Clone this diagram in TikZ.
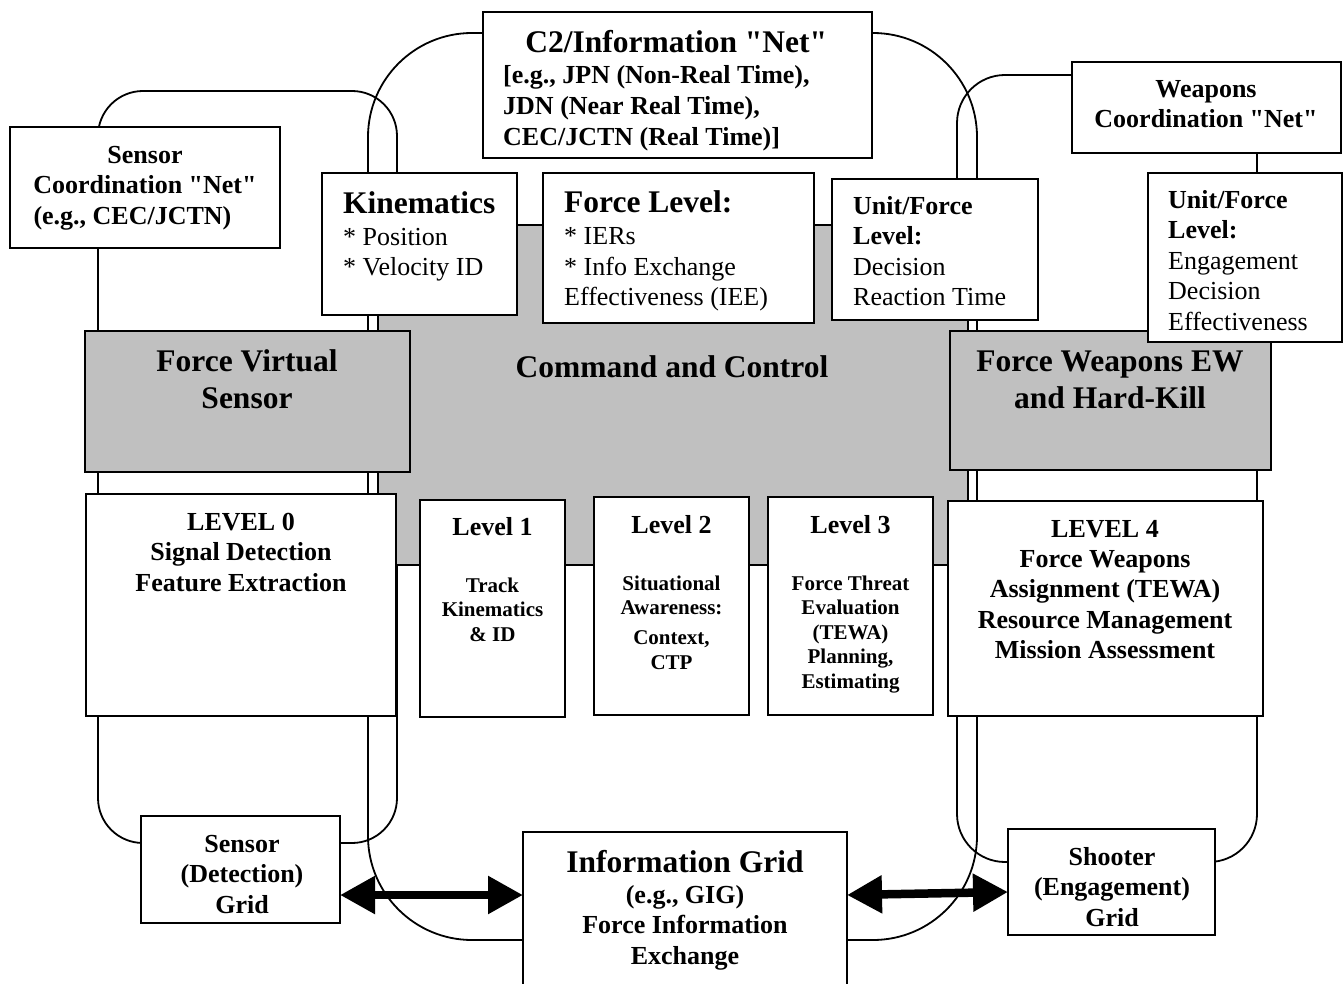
\documentclass[tikz,border=0pt]{standalone}
\usepackage{fontspec}
\setmainfont{Liberation Serif}
% a second face of the same family, without TeX quote ligatures, for straight quotes
\newfontfamily\straightq{Liberation Serif}
\newcommand\qq{{\straightq"}}
\usetikzlibrary{arrows.meta}
\definecolor{panelgray}{RGB}{192,192,192}
\newcommand\ttl[1]{{\fontsize{31.5}{37}\selectfont\bfseries #1}}
\newcommand\lead[1]{\rule{0pt}{#1pt}}
\begin{document}
\begin{tikzpicture}[x=1pt,y=-1pt,
  loopline/.style={line width=1.8pt},
  box/.style={draw, line width=1.8pt, fill=white, inner sep=0pt, outer sep=0pt, anchor=north west},
  shaded/.style={box, fill=panelgray},
  bodytext/.style={inner sep=0pt, font=\fontsize{26}{30.5}\selectfont},
  boldtext/.style={inner sep=0pt, font=\fontsize{26}{30.5}\selectfont\bfseries},
  bigtext/.style={inner sep=0pt, font=\fontsize{31.5}{37}\selectfont\bfseries},
  smalltext/.style={inner sep=0pt, font=\fontsize{21}{24.5}\selectfont\bfseries, align=center, anchor=north},
  link/.style={line width=8.5pt, {Triangle[length=35pt,width=36pt]}-{Triangle[length=35pt,width=36pt]}}
]
\useasboundingbox (0,0) rectangle (1343,984);
\clip (0,0) rectangle (1343,984);

% coordination loops (sensor, C2, weapons)
\draw[loopline, rounded corners=45pt] (98,91) rectangle (397,843);
\draw[loopline, rounded corners=104pt] (368,33) rectangle (977,940);
\draw[loopline, rounded corners=48pt] (957,75) rectangle (1257,862);

% central command and control panel
\node[shaded, minimum width=590pt, minimum height=340pt] (cc) at (378,225) {};

% upper boxes
\node[box, minimum width=195pt, minimum height=142pt] (kin) at (322,173) {};
\node[box, minimum width=271pt, minimum height=150pt] (flv) at (543,173) {};
\node[box, minimum width=206pt, minimum height=141pt] (ufm) at (832,179) {};
\node[shaded, minimum width=325pt, minimum height=141pt] (fvs) at (85,331) {};
\node[shaded, minimum width=321pt, minimum height=139pt] (fwk) at (950,331) {};
\node[box, minimum width=194pt, minimum height=169pt] (ufr) at (1148,173) {};
\node[box, minimum width=270pt, minimum height=121pt] (scn) at (10,127) {};
\node[box, minimum width=389pt, minimum height=146pt] (c2) at (483,12) {};
\node[box, minimum width=269pt, minimum height=91pt] (wcn) at (1072,62) {};

% fusion levels
\node[box, minimum width=310pt, minimum height=222pt] (lv0) at (86,494) {};
\node[box, minimum width=145pt, minimum height=217pt] (lv1) at (420,500) {};
\node[box, minimum width=155pt, minimum height=218pt] (lv2) at (594,497) {};
\node[box, minimum width=165pt, minimum height=218pt] (lv3) at (768,497) {};
\node[box, minimum width=315pt, minimum height=215pt] (lv4) at (948,501) {};

% grids
\node[box, minimum width=199pt, minimum height=107pt] (sgr) at (141,816) {};
\node[box, minimum width=324pt, minimum height=170pt] (igr) at (523,832) {};
\node[box, minimum width=207pt, minimum height=106pt] (shg) at (1008,829) {};

% texts
\node[boldtext, align=center, anchor=north] (scnT) at (145,143) {\lead{20}Sensor\\Coordination \qq Net\qq\\\makebox[223pt][l]{(e.g., CEC/JCTN)}};
\node[boldtext, align=left, anchor=north west, font=\fontsize{26}{31}\selectfont\bfseries] (c2T) at (503,27) {\lead{25}\makebox[346pt]{\ttl{C2/Information \qq Net\qq}}\\[0.5pt]{[}e.g., JPN (Non-Real Time),\\JDN (Near Real Time),\\CEC/JCTN (Real Time)]};
\node[boldtext, align=center, anchor=north] (wcnT) at (1206,77) {\lead{20}Weapons\\Coordination \qq Net\qq};
\node[bodytext, align=left, anchor=north west] (kinT) at (343,188) {\lead{25}\ttl{Kinematics}\\[1.5pt]{*} Position\\{*} Velocity ID};
\node[bodytext, align=left, anchor=north west] (flvT) at (564,187) {\lead{25}\ttl{Force Level:}\\[2pt]{*} IERs\\{*} Info Exchange\\Effectiveness (IEE)};
\node[bodytext, align=left, anchor=north west] (ufmT) at (853,194) {\lead{20}\textbf{Unit/Force}\\\textbf{Level:}\\Decision\\Reaction Time};
\node[bodytext, align=left, anchor=north west] (ufrT) at (1168,188) {\lead{20}\textbf{Unit/Force}\\\textbf{Level:}\\Engagement\\Decision\\Effectiveness};
\node[bigtext, anchor=base] (ccT) at (672,377) {Command and Control};
\node[bigtext, align=center, anchor=north] (fvsT) at (247,346) {\lead{25}Force Virtual\\Sensor};
\node[bigtext, align=center, anchor=north] (fwkT) at (1110,346) {\lead{25}Force Weapons EW\\and Hard-Kill};
\node[boldtext, align=center, anchor=north] (lv0T) at (241,510) {\lead{20}LEVEL 0\\Signal Detection\\Feature Extraction};
\node[boldtext, anchor=base] (lv1H) at (492.5,535) {Level 1};
\node[smalltext] (lv1T) at (492.5,575) {\lead{17}Track\\Kinematics\\\& ID};
\node[boldtext, anchor=base] (lv2H) at (671.5,533) {Level 2};
\node[smalltext] (lv2T) at (671.5,573) {\lead{17}Situational\\Awareness:\\[5.5pt]Context,\\CTP};
\node[boldtext, anchor=base] (lv3H) at (850.5,533) {Level 3};
\node[smalltext] (lv3T) at (850.5,573) {\lead{17}Force Threat\\Evaluation\\(TEWA)\\Planning,\\Estimating};
\node[boldtext, align=center, anchor=north, font=\fontsize{26}{30.3}\selectfont\bfseries] (lv4T) at (1105,517) {\lead{20}LEVEL 4\\Force Weapons\\Assignment (TEWA)\\Resource Management\\Mission Assessment};
\node[boldtext, align=center, anchor=north] (sgrT) at (242,832) {\lead{20}Sensor\\(Detection)\\Grid};
\node[boldtext, align=center, anchor=north] (igrT) at (685,847) {\lead{25}\ttl{Information Grid}\\[0.5pt](e.g., GIG)\\Force Information\\Exchange};
\node[boldtext, align=center, anchor=north] (shgT) at (1112,845) {\lead{20}Shooter\\(Engagement)\\Grid};

% information exchange between the grids
\draw[link] (sgr.east |- 0,895) -- (igr.west |- 0,895);
\draw[link] (igr.east |- 0,895) -- (shg.west |- 0,892);
\end{tikzpicture}
\end{document}
